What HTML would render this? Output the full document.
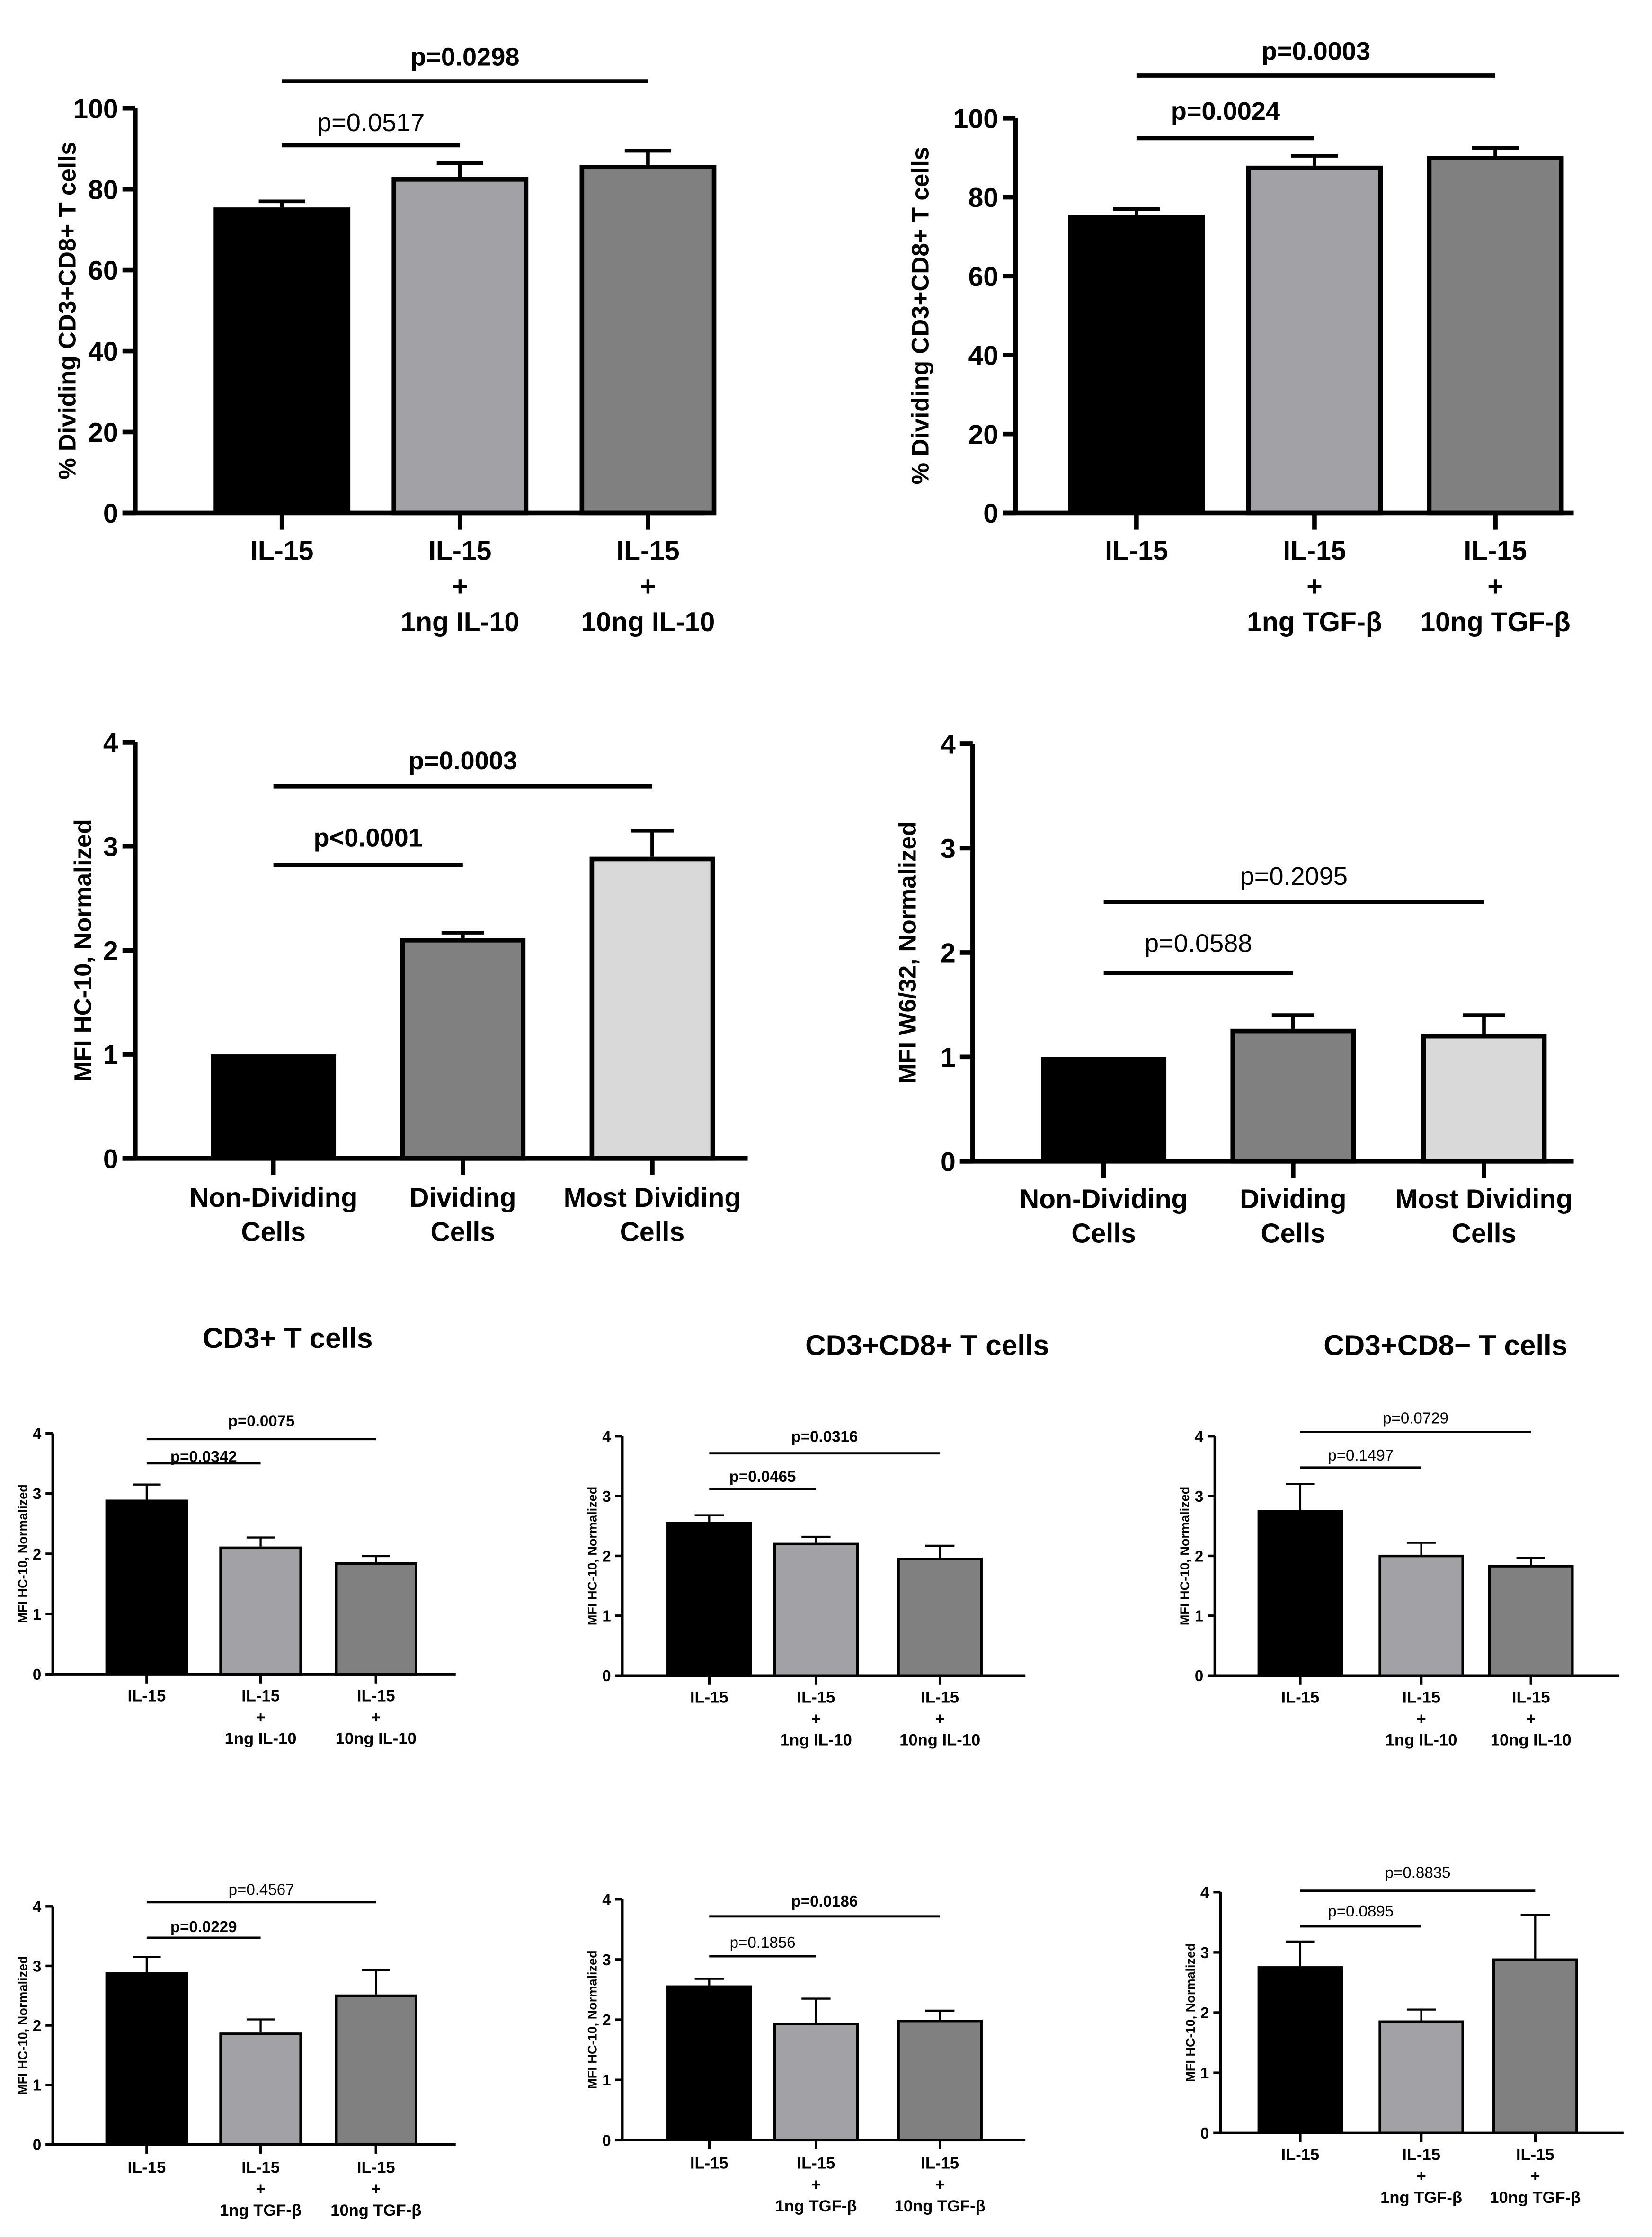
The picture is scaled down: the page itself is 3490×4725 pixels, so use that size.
<!DOCTYPE html>
<html><head><meta charset="utf-8">
<style>
html,body{margin:0;padding:0;background:#fff;}
svg{display:block;}
text{font-family:"Liberation Sans",Arial,sans-serif;fill:#000;}
</style></head>
<body>
<svg id="fig" width="3490" height="4725" viewBox="0 0 1160 1570" preserveAspectRatio="none" xmlns="http://www.w3.org/2000/svg"></svg>
<script>
// ---- data ----
const catIL10 = [["IL-15"],["IL-15","+","1ng IL-10"],["IL-15","+","10ng IL-10"]];
const catTGF = [["IL-15"],["IL-15","+","1ng TGF-β"],["IL-15","+","10ng TGF-β"]];
const catDiv = [["Non-Dividing","Cells"],["Dividing","Cells"],["Most Dividing","Cells"]];
const ticksPct = [0,20,40,60,80,100];
const ticksMFI = [0,1,2,3,4];

const aValues = [75.5, 83, 86];
const aErrors = [77, 86.5, 89.5];
const bValues = [75.5, 88, 90.5];
const bErrors = [77, 90.5, 92.5];
const cValues = [1.0, 2.12, 2.9];
const cErrors = [1.0, 2.17, 3.15];
const dValues = [1.0, 1.27, 1.22];
const dErrors = [1.0, 1.4, 1.4];
const eValues = [2.9, 2.12, 1.86];
const eErrors = [3.15, 2.27, 1.96];
const fValues = [2.57, 2.22, 1.97];
const fErrors = [2.68, 2.32, 2.17];
const gValues = [2.77, 2.02, 1.85];
const gErrors = [3.2, 2.22, 1.97];
const hValues = [2.9, 1.88, 2.52];
const hErrors = [3.15, 2.1, 2.93];
const iValues = [2.57, 1.95, 2.0];
const iErrors = [2.68, 2.35, 2.15];
const jValues = [2.77, 1.87, 2.9];
const jErrors = [3.18, 2.05, 3.62];

const pA = ["p=0.0517","p=0.0298"], pB = ["p=0.0024","p=0.0003"];
const pC = ["p<0.0001","p=0.0003"], pD = ["p=0.0588","p=0.2095"];
const pE = ["p=0.0342","p=0.0075"], pF = ["p=0.0465","p=0.0316"];
const pG = ["p=0.1497","p=0.0729"], pH = ["p=0.0229","p=0.4567"];
const pI = ["p=0.1856","p=0.0186"], pJ = ["p=0.0895","p=0.8835"];

const NS = "http://www.w3.org/2000/svg";
const svg = document.getElementById('fig');
function mk(tag, attrs, parent){
  const e = document.createElementNS(NS, tag);
  for (const k in attrs) e.setAttribute(k, attrs[k]);
  (parent||svg).appendChild(e); return e;
}
function txt(parent, x, y, s, size, weight, extra){
  const t = mk('text', Object.assign({x:x, y:y, 'font-size':size, 'font-weight':weight, 'text-anchor':'middle'}, extra||{}), parent);
  t.textContent = s; return t;
}

function panel(o){
  const g = mk('g', {});
  
  
  const ymax = o.ticks[o.ticks.length-1];
  const Y = v => o.y0 - (o.y0 - o.yTop) * v / ymax;
  const sw = o.sw;
  o.values.forEach((v, i) => {
    const cx = o.centers[i];
    const er = o.errors[i];
    if (er > v) {
      const eb = mk('path', {d:`M${cx},${Y(v)} V${Y(er)} M${cx-o.bw*0.17},${Y(er)} H${cx+o.bw*0.17}`, stroke:'#000', 'stroke-width':sw*0.8, fill:'none'}, g);
      
      
    }
    const fill = o.colors[i];
    const r = mk('rect', {x:cx-o.bw/2 + (i?sw/2:0), y:Y(v)+(i?sw/2:0), width:o.bw-(i?sw:0), height:o.y0-Y(v)-(i?sw/2:0), fill:fill, stroke:i?'#000':'none', 'stroke-width':sw}, g);
    
    
  });
  const ax = mk('path', {d:`M${o.ax},${o.yTop} V${o.y0} M${o.ax-o.tl},${o.y0} H${o.xEnd}`, stroke:'#000', 'stroke-width':sw, fill:'none'}, g);
  
  
  o.ticks.forEach(t => {
    mk('path', {d:`M${o.ax-o.tl},${Y(t)} H${o.ax}`, stroke:'#000', 'stroke-width':sw}, g);
    const lab = txt(g, o.ax-o.tl-3, Y(t)+o.tf*0.36, String(t), o.tf, 'bold', {'text-anchor':'end'});
    
    
  });
  o.centers.forEach((cx, i) => {
    mk('path', {d:`M${cx},${o.y0} V${o.y0+o.tl*1.3}`, stroke:'#000', 'stroke-width':sw}, g);
    o.cats[i].forEach((line, k) => {
      const lab = txt(g, cx, o.xl + k*o.xls, line, o.xf, 'bold');
      
      
    });
  });
  const yt = txt(g, 0, 0, o.ytitle, o.yf, 'bold', {transform:`translate(${o.ytx},${(o.y0+o.yTop)/2}) rotate(-90)`});
  
  
  o.sig.forEach((s, k) => {
    const x1 = o.centers[0], x2 = o.centers[k+1];
    const l = mk('path', {d:`M${x1},${s.y} H${x2}`, stroke:'#000', 'stroke-width':sw*0.9}, g);
    
    
    const t = txt(g, (x1+x2)/2, s.ty, o.p[k], o.pf, s.bold?'bold':'normal');
    
    
  });
  if (o.title) {
    const t = txt(g, o.title[1], o.title[2], o.title[0], 20, 'bold');
    
    
  }
}

const big = {sw:3.2, tl:9, tf:19, xf:19, xls:25, yf:17, pf:18};
const small = {sw:1.8, tl:5, tf:11, xf:11.5, xls:15, yf:9, pf:11};
const col3 = ['#000', '#a2a2a6', '#808080'];
const colDiv = ['#000', '#808080', '#d9d9d9'];

panel(Object.assign({}, big, {name:'panel-a-il10-dividing', ax:95, y0:360, yTop:76, xEnd:495, centers:[198,323,455], bw:96, values:aValues, errors:aErrors, ticks:ticksPct, cats:catIL10, colors:col3, xl:393, ytitle:'% Dividing CD3+CD8+ T cells', ytx:53, p:pA, sig:[{y:102,ty:92,bold:false},{y:57,ty:46,bold:true}]}));
panel(Object.assign({}, big, {name:'panel-b-tgfb-dividing', ax:713, y0:360, yTop:83, xEnd:1105, centers:[798,923,1050], bw:96, values:bValues, errors:bErrors, ticks:ticksPct, cats:catTGF, colors:col3, xl:393, ytitle:'% Dividing CD3+CD8+ T cells', ytx:652, p:pB, sig:[{y:97,ty:84,bold:true},{y:53,ty:42,bold:true}]}));
panel(Object.assign({}, big, {name:'panel-c-hc10-division', ax:95, y0:813, yTop:521, xEnd:525, centers:[192,325,458], bw:88, values:cValues, errors:cErrors, ticks:ticksMFI, cats:catDiv, colors:colDiv, xl:847, xls:24, ytitle:'MFI HC-10, Normalized', ytx:64, p:pC, sig:[{y:607,ty:594,bold:true},{y:552,ty:540,bold:true}]}));
panel(Object.assign({}, big, {name:'panel-d-w632-division', ax:683, y0:815, yTop:522, xEnd:1105, centers:[775,908,1042], bw:88, values:dValues, errors:dErrors, ticks:ticksMFI, cats:catDiv, colors:colDiv, xl:848, xls:24, ytitle:'MFI W6/32, Normalized', ytx:643, p:pD, sig:[{y:683,ty:668,bold:false},{y:633,ty:621,bold:false}]}));

panel(Object.assign({}, small, {name:'panel-e-cd3-il10', ax:37, y0:1175, yTop:1006, xEnd:320, centers:[103,183,264], bw:58, values:eValues, errors:eErrors, ticks:ticksMFI, cats:catIL10, colors:col3, xl:1194, ytitle:'MFI HC-10, Normalized', ytx:19, p:pE, sig:[{y:1027,ty:1026,bold:true},{y:1010,ty:1001,bold:true}], title:['CD3+ T cells',202,946]}));
panel(Object.assign({}, small, {name:'panel-f-cd8pos-il10', ax:437, y0:1176, yTop:1008, xEnd:720, centers:[498,573,660], bw:60, values:fValues, errors:fErrors, ticks:ticksMFI, cats:catIL10, colors:col3, xl:1195, ytitle:'MFI HC-10, Normalized', ytx:419, p:pF, sig:[{y:1045,ty:1040,bold:true},{y:1020,ty:1012,bold:true}], title:['CD3+CD8+ T cells',651,951]}));
panel(Object.assign({}, small, {name:'panel-g-cd8neg-il10', ax:853, y0:1176, yTop:1008, xEnd:1137, centers:[913,998,1075], bw:60, values:gValues, errors:gErrors, ticks:ticksMFI, cats:catIL10, colors:col3, xl:1195, ytitle:'MFI HC-10, Normalized', ytx:835, p:pG, sig:[{y:1030,ty:1025,bold:false},{y:1005,ty:999,bold:false}], title:['CD3+CD8− T cells',1015,951]}));

panel(Object.assign({}, small, {name:'panel-h-cd3-tgfb', ax:37, y0:1505, yTop:1338, xEnd:320, centers:[103,183,264], bw:58, values:hValues, errors:hErrors, ticks:ticksMFI, cats:catTGF, colors:col3, xl:1525, ytitle:'MFI HC-10, Normalized', ytx:19, p:pH, sig:[{y:1360,ty:1356,bold:true},{y:1335,ty:1330,bold:false}]}));
panel(Object.assign({}, small, {name:'panel-i-cd8pos-tgfb', ax:437, y0:1502, yTop:1333, xEnd:720, centers:[498,573,660], bw:60, values:iValues, errors:iErrors, ticks:ticksMFI, cats:catTGF, colors:col3, xl:1522, ytitle:'MFI HC-10, Normalized', ytx:419, p:pI, sig:[{y:1373,ty:1367,bold:false},{y:1345,ty:1338,bold:true}]}));
panel(Object.assign({}, small, {name:'panel-j-cd8neg-tgfb', ax:857, y0:1497, yTop:1328, xEnd:1140, centers:[913,998,1078], bw:60, values:jValues, errors:jErrors, ticks:ticksMFI, cats:catTGF, colors:col3, xl:1516, ytitle:'MFI HC-10, Normalized', ytx:839, p:pJ, sig:[{y:1352,ty:1345,bold:false},{y:1327,ty:1318,bold:false}]}));
</script>
</body></html>
